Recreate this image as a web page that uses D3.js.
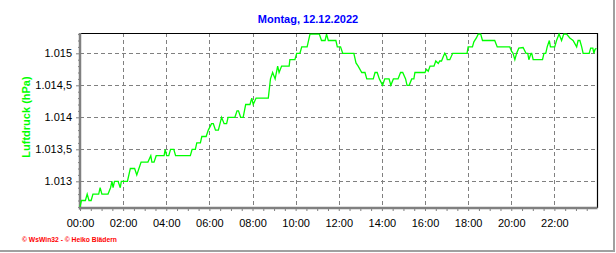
<!DOCTYPE html>
<html>
<head>
<meta charset="utf-8">
<script src="https://cdn.jsdelivr.net/npm/d3@7"></script>
<style>
  body { margin: 0; background: #fff; }
  svg { display: block; font-family: "Liberation Sans", Arial, sans-serif; }
</style>
</head>
<body>
<script>
const title = 'Montag, 12.12.2022';
const yTitle = 'Luftdruck (hPa)';
const credits = '\u00a9 WsWin32 - \u00a9 Heiko Blädern';

const xLabels = ['00:00', '02:00', '04:00', '06:00', '08:00', '10:00',
  '12:00', '14:00', '16:00', '18:00', '20:00', '22:00'];
const yLabels = [1013, 1013.5, 1014, 1014.5, 1015];

// Messwerte Luftdruck (hPa)
const times = [
  '00:00', '00:04', '00:15', '00:20', '00:25', '00:31', '00:36', '00:52', '00:56', '01:01',
  '01:18', '01:25', '01:29', '01:32', '01:36', '01:46', '01:52', '01:55', '02:12', '02:20',
  '02:32', '02:38', '02:44', '02:50', '03:09', '03:17', '03:20', '03:26', '03:32', '03:54',
  '03:57', '04:01', '04:07', '04:12', '04:21', '04:26', '05:07', '05:12', '05:21', '05:25',
  '05:35', '05:39', '05:51', '05:57', '06:06', '06:11', '06:17', '06:25', '06:34', '06:41',
  '06:48', '06:52', '07:11', '07:17', '07:21', '07:27', '07:34', '07:41', '07:53', '07:58',
  '08:02', '08:10', '08:44', '08:50', '08:56', '09:03', '09:10', '09:14', '09:21', '09:42',
  '09:44', '09:58', '10:03', '10:12', '10:17', '10:32', '10:40', '11:06', '11:12', '11:22',
  '11:26', '11:31', '11:52', '11:56', '12:05', '12:11', '12:42', '12:48', '12:54', '13:04',
  '13:13', '13:18', '13:36', '13:41', '13:47', '13:53', '14:02', '14:08', '14:20', '14:25',
  '14:32', '14:45', '14:52', '14:58', '15:06', '15:10', '15:16', '15:23', '15:29', '15:32',
  '16:00', '16:04', '16:09', '16:14', '16:25', '16:30', '16:37', '16:41', '16:46', '16:51',
  '16:55', '17:00', '17:02', '17:09', '17:17', '17:57', '18:00', '18:12', '18:16', '18:23',
  '18:28', '18:35', '18:40', '19:14', '19:21', '19:56', '20:01', '20:05', '20:10', '20:15',
  '20:21', '20:33', '20:41', '20:46', '20:49', '20:55', '20:57', '21:01', '21:27', '21:31',
  '21:36', '21:40', '21:46', '21:49', '22:01', '22:06', '22:13', '22:20', '22:26', '22:34',
  '22:43', '22:52', '23:02', '23:06', '23:11', '23:16', '23:20', '23:37', '23:41', '23:47',
  '23:50', '23:53', '23:57'
];
const pressure = [
  1012.6, 1012.7, 1012.7, 1012.8, 1012.7, 1012.7, 1012.8, 1012.8, 1012.9, 1012.8,
  1012.8, 1012.9, 1013.0, 1012.9, 1013.0, 1013.0, 1012.9, 1013.0, 1013.0, 1013.2,
  1013.2, 1013.1, 1013.2, 1013.3, 1013.3, 1013.4, 1013.3, 1013.3, 1013.4, 1013.4,
  1013.5, 1013.4, 1013.4, 1013.5, 1013.5, 1013.4, 1013.4, 1013.5, 1013.5, 1013.6,
  1013.6, 1013.7, 1013.7, 1013.8, 1013.9, 1013.9, 1013.8, 1013.8, 1014.0, 1013.9,
  1013.9, 1014.0, 1014.0, 1014.1, 1014.1, 1014.0, 1014.0, 1014.2, 1014.2, 1014.3,
  1014.2, 1014.3, 1014.3, 1014.6, 1014.7, 1014.6, 1014.8, 1014.7, 1014.8, 1014.8,
  1014.9, 1014.9, 1015.0, 1015.0, 1015.1, 1015.1, 1015.3, 1015.3, 1015.2, 1015.2,
  1015.3, 1015.2, 1015.2, 1015.1, 1015.1, 1015.0, 1015.0, 1014.85, 1014.8, 1014.7,
  1014.7, 1014.6, 1014.6, 1014.7, 1014.7, 1014.6, 1014.5, 1014.6, 1014.6, 1014.5,
  1014.6, 1014.6, 1014.7, 1014.7, 1014.6, 1014.5, 1014.5, 1014.6, 1014.6, 1014.7,
  1014.7, 1014.75, 1014.72, 1014.8, 1014.8, 1014.88, 1014.84, 1014.88, 1014.88, 1014.95,
  1015.0, 1014.95, 1014.9, 1014.9, 1015.0, 1015.0, 1015.1, 1015.1, 1015.18, 1015.24,
  1015.3, 1015.3, 1015.2, 1015.2, 1015.1, 1015.1, 1015.03, 1015.0, 1014.9, 1015.0,
  1015.08, 1015.09, 1015.0, 1015.0, 1014.9, 1015.0, 1015.0, 1014.9, 1014.9, 1015.0,
  1015.0, 1015.1, 1015.2, 1015.1, 1015.1, 1015.2, 1015.3, 1015.2, 1015.3, 1015.3,
  1015.24, 1015.2, 1015.1, 1015.2, 1015.2, 1015.1, 1015.0, 1015.0, 1015.08, 1015.08,
  1015.0, 1015.06, 1015.08
];

const width = 616, height = 253;
const plotLeft = 80, plotRight = 597.5, plotTop = 33, plotBottom = 208;

const toMin = s => +s.slice(0, 2) * 60 + +s.slice(3, 5);
const data = times.map((t, i) => ({ m: toMin(t), v: pressure[i] }));

const x = d3.scaleLinear().domain([0, 1440]).range([plotLeft, plotRight]);
const y = d3.scaleLinear().domain([1012.6, 1015.3]).range([206.9, 34.1]);

const de = d3.formatLocale({ decimal: ',', thousands: '.', grouping: [3], currency: ['', '\u20ac'] });
const fmt = de.format(',.1~f');
const isLabel = v => yLabels.some(l => Math.abs(l - v) < 1e-6);

const svg = d3.select('body').append('svg')
  .attr('width', width)
  .attr('height', height);

svg.append('rect').attr('width', width).attr('height', height).attr('fill', '#fff');

// outer border (right / bottom)
svg.append('line').attr('x1', 614).attr('x2', 614).attr('y1', 0).attr('y2', 252)
  .attr('stroke', '#a0a0a0').attr('stroke-width', 2);
svg.append('line').attr('x1', 0).attr('x2', 615).attr('y1', 251).attr('y2', 251)
  .attr('stroke', '#a0a0a0').attr('stroke-width', 2);

// grid
const xGrid = xLabels.slice(1).map(toMin);
svg.append('g').selectAll('line')
  .data(xGrid)
  .join('line')
  .attr('x1', d => Math.round(x(d)) + 0.5)
  .attr('x2', d => Math.round(x(d)) + 0.5)
  .attr('y1', plotTop)
  .attr('y2', plotBottom)
  .attr('stroke', '#808080')
  .attr('stroke-dasharray', '4,3');

svg.append('g').selectAll('line')
  .data(yLabels)
  .join('line')
  .attr('x1', plotLeft)
  .attr('x2', plotRight)
  .attr('y1', d => Math.round(y(d)) + 0.5)
  .attr('y2', d => Math.round(y(d)) + 0.5)
  .attr('stroke', '#808080')
  .attr('stroke-dasharray', '4,3');

// frame top / right
svg.append('path')
  .attr('d', `M${plotLeft},${plotTop + 0.5}H${plotRight}V${plotBottom}`)
  .attr('fill', 'none')
  .attr('stroke', '#000')
  .attr('stroke-width', 1.2);

// axes
const xAxis = d3.axisBottom(x)
  .tickValues(d3.range(0, 1440, 30))
  .tickSize(3)
  .tickPadding(8)
  .tickFormat(m => m % 120 === 0 ? xLabels[m / 120] : '');

svg.append('g')
  .attr('transform', `translate(0,${plotBottom})`)
  .call(xAxis)
  .call(g => g.select('.domain').remove())
  .call(g => g.selectAll('line').attr('stroke', '#808080'))
  .call(g => g.selectAll('text').attr('fill', '#000').style('font-size', '11px')
    .style('font-family', '"Liberation Sans", Arial, sans-serif'));

const minor = d3.range(10126, 10154).map(d => d / 10);
const yAxis = d3.axisLeft(y)
  .tickValues(minor)
  .tickSize(4)
  .tickPadding(4)
  .tickFormat(v => isLabel(v) ? fmt(v) : '');

svg.append('g')
  .attr('transform', `translate(${plotLeft},0)`)
  .call(yAxis)
  .call(g => g.select('.domain').remove())
  .call(g => g.selectAll('line').attr('stroke', '#808080')
    .attr('x2', v => isLabel(v) ? -4 : -2))
  .call(g => g.selectAll('text').attr('fill', '#000').style('font-size', '11px')
    .style('font-family', '"Liberation Sans", Arial, sans-serif'));

svg.append('line').attr('x1', plotLeft).attr('x2', plotLeft).attr('y1', plotTop).attr('y2', plotBottom + 1.5)
  .attr('stroke', '#808080').attr('stroke-width', 2.5);
svg.append('line').attr('x1', plotLeft - 1).attr('x2', plotRight).attr('y1', plotBottom).attr('y2', plotBottom)
  .attr('stroke', '#808080').attr('stroke-width', 2.5);

// data line
const line = d3.line()
  .x(d => x(d.m))
  .y(d => y(d.v));

svg.append('path')
  .datum(data)
  .attr('d', line)
  .attr('fill', 'none')
  .attr('stroke', '#00ff00')
  .attr('stroke-width', 1.3);

// texts
svg.append('text')
  .attr('x', 308)
  .attr('y', 23)
  .attr('text-anchor', 'middle')
  .attr('fill', '#0000ff')
  .style('font-size', '11px')
  .style('font-weight', 'bold')
  .text(title);

svg.append('text')
  .attr('transform', 'translate(29.5,117) rotate(-90)')
  .attr('text-anchor', 'middle')
  .attr('fill', '#00ff00')
  .style('font-size', '11px')
  .style('font-weight', 'bold')
  .text(yTitle);

svg.append('text')
  .attr('x', 22)
  .attr('y', 241.5)
  .attr('fill', '#ff0000')
  .attr('textLength', 95)
  .attr('lengthAdjust', 'spacingAndGlyphs')
  .style('font-size', '7.5px')
  .style('font-weight', 'bold')
  .text(credits);
</script>
</body>
</html>
